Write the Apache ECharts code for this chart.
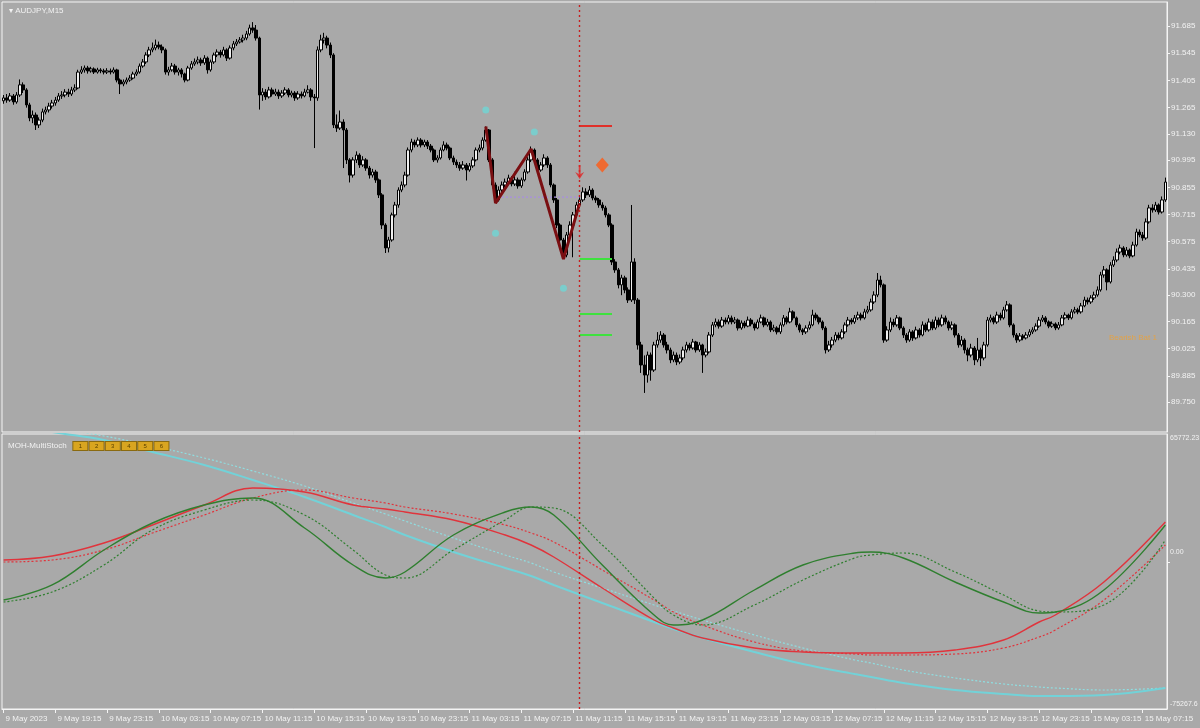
<!DOCTYPE html>
<html><head><meta charset="utf-8">
<script src="https://cdn.jsdelivr.net/npm/echarts@6/dist/echarts.min.js"></script>
<style>html,body{margin:0;padding:0;background:#a9a9a9}#c{width:1200px;height:728px}</style>
</head><body><div id="c"></div>
<script>
const symbolName = 'AUDJPY,M15';
const indicatorName = 'MOH-MultiStoch';
const indicatorButtons = ['1','2','3','4','5','6'];
const sideNote = 'Bearish Bat 1';
const xTickLabels = ['9 May 2023','9 May 19:15','9 May 23:15','10 May 03:15','10 May 07:15','10 May 11:15','10 May 15:15','10 May 19:15','10 May 23:15','11 May 03:15','11 May 07:15','11 May 11:15','11 May 15:15','11 May 19:15','11 May 23:15','12 May 03:15','12 May 07:15','12 May 11:15','12 May 15:15','12 May 19:15','12 May 23:15','15 May 03:15','15 May 07:15'];
const priceTicks = [89.750,89.885,90.025,90.165,90.300,90.435,90.575,90.715,90.855,90.995,91.130,91.265,91.405,91.545,91.685];
const stochTicks = [65772.23, 0, -75267.6];
const stochTickText = ['65772.23','0.00','-75267.6'];

const firstOpen = 91.300;
const closes = [
91.315,91.304,91.325,91.294,91.330,91.382,91.356,91.279,91.212,91.227,91.176,91.201,91.243,91.253,91.273,91.289,
91.304,91.325,91.330,91.345,91.335,91.356,91.366,91.448,91.459,91.469,91.454,91.464,91.448,91.459,91.454,91.448,
91.454,91.448,91.459,91.407,91.387,91.397,91.407,91.417,91.438,91.448,91.479,91.500,91.536,91.562,91.572,91.587,
91.577,91.562,91.448,91.459,91.479,91.448,91.459,91.438,91.407,91.469,91.490,91.500,91.510,91.495,91.520,91.459,
91.500,91.536,91.551,91.536,91.562,91.520,91.572,91.593,91.603,91.613,91.623,91.644,91.675,91.664,91.623,91.330,
91.345,91.320,91.356,91.335,91.345,91.325,91.340,91.356,91.330,91.340,91.315,91.335,91.325,91.345,91.356,91.320,
91.315,91.562,91.613,91.623,91.587,91.536,91.176,91.160,91.191,91.150,90.996,90.918,90.996,91.021,90.970,90.996,
90.954,90.918,90.934,90.893,90.816,90.661,90.543,90.584,90.713,90.764,90.841,90.867,90.918,91.047,91.088,91.073,
91.098,91.073,91.088,91.067,91.047,90.996,91.006,91.047,91.073,91.057,91.006,90.985,90.970,90.954,90.970,90.944,
90.965,90.996,91.047,91.057,91.098,91.150,90.996,90.867,90.790,90.841,90.867,90.882,90.903,90.872,90.893,90.862,
90.893,90.934,90.996,91.047,90.996,90.944,90.970,91.006,90.970,90.867,90.790,90.661,90.584,90.507,90.610,90.661,
90.713,90.764,90.790,90.831,90.816,90.841,90.800,90.790,90.764,90.749,90.713,90.661,90.471,90.430,90.353,90.389,
90.327,90.275,90.471,90.275,90.044,89.941,89.889,89.992,89.915,90.044,90.069,90.095,90.044,90.018,89.967,89.992,
89.956,89.977,90.018,90.044,90.028,90.059,90.018,90.044,89.992,90.008,90.095,90.147,90.162,90.141,90.172,90.162,
90.183,90.162,90.172,90.131,90.157,90.141,90.172,90.152,90.131,90.162,90.183,90.147,90.162,90.121,90.131,90.111,
90.147,90.183,90.162,90.214,90.183,90.147,90.121,90.111,90.131,90.147,90.198,90.183,90.162,90.131,90.018,90.044,
90.069,90.095,90.080,90.111,90.147,90.172,90.162,90.183,90.198,90.183,90.214,90.224,90.265,90.301,90.378,90.353,
90.069,90.121,90.162,90.147,90.183,90.131,90.095,90.069,90.111,90.080,90.121,90.095,90.147,90.121,90.162,90.131,
90.172,90.147,90.183,90.162,90.131,90.147,90.095,90.044,90.069,90.018,89.992,90.028,89.967,90.018,89.977,90.044,
90.172,90.183,90.162,90.198,90.183,90.224,90.250,90.147,90.095,90.069,90.090,90.080,90.095,90.111,90.121,90.141,
90.172,90.183,90.162,90.141,90.152,90.131,90.147,90.183,90.198,90.183,90.214,90.224,90.214,90.245,90.275,90.265,
90.286,90.301,90.327,90.404,90.430,90.368,90.455,90.481,90.522,90.543,90.507,90.532,90.502,90.558,90.625,90.610,
90.594,90.677,90.749,90.738,90.764,90.728,90.790,90.882];
const highs = [
91.330,91.335,91.340,91.335,91.345,91.410,91.395,91.365,91.290,91.250,91.240,91.215,91.260,91.270,91.290,91.305,
91.320,91.340,91.350,91.360,91.362,91.372,91.385,91.460,91.478,91.482,91.480,91.475,91.472,91.470,91.468,91.465,
91.468,91.466,91.472,91.465,91.415,91.410,91.420,91.432,91.450,91.462,91.492,91.515,91.550,91.578,91.600,91.615,
91.605,91.590,91.570,91.475,91.495,91.490,91.470,91.468,91.445,91.480,91.505,91.518,91.528,91.522,91.535,91.528,
91.512,91.548,91.565,91.562,91.578,91.570,91.585,91.608,91.618,91.628,91.640,91.660,91.692,91.705,91.690,91.630,
91.365,91.360,91.372,91.368,91.362,91.358,91.355,91.370,91.365,91.352,91.350,91.350,91.348,91.362,91.380,91.365,
91.335,91.580,91.640,91.650,91.635,91.600,91.545,91.230,91.250,91.205,91.160,91.005,91.010,91.040,91.030,91.015,
91.005,90.965,90.950,90.945,90.900,90.825,90.670,90.600,90.725,90.780,90.855,90.885,90.935,91.060,91.105,91.100,
91.112,91.108,91.100,91.098,91.078,91.055,91.020,91.060,91.092,91.085,91.065,91.018,90.998,90.985,90.990,90.980,
90.980,91.010,91.060,91.075,91.112,91.168,91.155,91.005,90.880,90.860,90.885,90.900,90.920,90.912,90.935,90.905,
90.905,90.948,91.010,91.065,91.055,91.005,90.985,91.025,91.015,90.980,90.875,90.800,90.670,90.595,90.625,90.680,
90.728,90.780,90.810,90.855,90.850,90.862,90.850,90.812,90.800,90.778,90.760,90.722,90.670,90.485,90.440,90.405,
90.400,90.340,90.764,90.490,90.285,90.060,89.990,90.010,90.005,90.060,90.110,90.115,90.105,90.060,90.030,90.010,
90.005,89.995,90.035,90.060,90.055,90.075,90.065,90.058,90.050,90.025,90.110,90.162,90.180,90.175,90.188,90.185,
90.198,90.195,90.188,90.180,90.170,90.168,90.190,90.182,90.160,90.175,90.200,90.190,90.178,90.170,90.148,90.140,
90.160,90.198,90.192,90.235,90.222,90.190,90.155,90.130,90.145,90.165,90.225,90.210,90.190,90.170,90.140,90.065,
90.085,90.110,90.108,90.125,90.160,90.188,90.182,90.198,90.215,90.210,90.230,90.245,90.282,90.320,90.414,90.400,
90.360,90.140,90.185,90.178,90.198,90.190,90.140,90.105,90.125,90.120,90.138,90.130,90.165,90.158,90.180,90.175,
90.190,90.185,90.200,90.195,90.170,90.165,90.155,90.105,90.090,90.078,90.030,90.050,90.038,90.080,90.030,90.060,
90.188,90.200,90.192,90.215,90.210,90.240,90.270,90.258,90.155,90.105,90.105,90.100,90.110,90.125,90.135,90.155,
90.188,90.198,90.192,90.170,90.165,90.160,90.162,90.198,90.212,90.205,90.228,90.240,90.235,90.260,90.292,90.288,
90.300,90.318,90.345,90.420,90.450,90.438,90.470,90.500,90.540,90.560,90.552,90.548,90.540,90.575,90.642,90.638,
90.625,90.695,90.765,90.768,90.780,90.772,90.808,90.905];
const lows = [
91.285,91.290,91.295,91.280,91.285,91.320,91.340,91.265,91.195,91.185,91.150,91.160,91.190,91.230,91.240,91.260,
91.275,91.295,91.310,91.318,91.320,91.325,91.345,91.360,91.438,91.445,91.440,91.445,91.438,91.440,91.442,91.436,
91.438,91.436,91.440,91.395,91.335,91.375,91.385,91.398,91.410,91.428,91.440,91.470,91.490,91.525,91.550,91.560,
91.565,91.545,91.435,91.430,91.450,91.435,91.430,91.420,91.395,91.400,91.460,91.480,91.488,91.480,91.485,91.440,
91.450,91.490,91.525,91.522,91.528,91.505,91.512,91.560,91.582,91.595,91.600,91.612,91.635,91.650,91.610,91.255,
91.300,91.305,91.312,91.322,91.325,91.310,91.315,91.330,91.318,91.318,91.300,91.305,91.312,91.318,91.338,91.300,
91.057,91.300,91.550,91.595,91.570,91.520,91.160,91.140,91.150,90.954,90.975,90.880,90.905,90.980,90.955,90.960,
90.940,90.900,90.905,90.878,90.800,90.640,90.517,90.520,90.575,90.700,90.750,90.830,90.855,90.910,91.035,91.060,
91.062,91.060,91.062,91.052,91.035,90.985,90.982,90.998,91.040,91.045,90.995,90.970,90.955,90.940,90.945,90.890,
90.935,90.955,90.988,91.035,91.045,91.090,90.985,90.850,90.774,90.782,90.830,90.855,90.870,90.860,90.862,90.848,
90.852,90.885,90.925,90.985,90.982,90.930,90.935,90.960,90.955,90.855,90.775,90.645,90.565,90.486,90.495,90.600,
90.495,90.700,90.750,90.780,90.800,90.805,90.788,90.775,90.750,90.735,90.700,90.650,90.455,90.415,90.335,90.300,
90.310,90.260,90.265,90.255,90.020,89.900,89.797,89.850,89.860,89.905,90.030,90.055,90.030,90.000,89.950,89.955,
89.940,89.945,89.965,90.005,90.015,90.020,90.005,90.008,89.900,89.980,90.000,90.085,90.135,90.128,90.132,90.150,
90.150,90.150,90.152,90.118,90.122,90.130,90.135,90.140,90.118,90.125,90.155,90.135,90.138,90.110,90.112,90.098,
90.100,90.138,90.150,90.155,90.170,90.135,90.108,90.095,90.100,90.122,90.140,90.170,90.150,90.120,90.000,90.008,
90.030,90.058,90.068,90.072,90.100,90.138,90.150,90.152,90.172,90.170,90.175,90.205,90.215,90.255,90.290,90.340,
90.055,90.060,90.110,90.135,90.138,90.120,90.080,90.055,90.060,90.065,90.072,90.082,90.088,90.110,90.112,90.120,
90.122,90.135,90.138,90.150,90.118,90.120,90.082,90.030,90.035,90.000,89.960,89.980,89.940,89.955,89.935,89.965,
90.035,90.160,90.150,90.152,90.170,90.175,90.215,90.135,90.082,90.055,90.060,90.068,90.072,90.085,90.100,90.112,
90.132,90.162,90.150,90.130,90.132,90.120,90.122,90.140,90.175,90.172,90.175,90.205,90.202,90.205,90.238,90.252,
90.255,90.275,90.292,90.318,90.390,90.325,90.360,90.445,90.470,90.510,90.495,90.498,90.490,90.495,90.550,90.598,
90.580,90.585,90.668,90.725,90.728,90.715,90.720,90.780];

// harmonic pattern & markers (bar index, price)
const patternBars = [149,152,163,173,178];
const patternPrices = [91.168,90.774,91.052,90.486,90.774];
const midlineBars = [154,178];
const midlinePrice = 90.805;
const dotBars = [149,164,152,173];
const dotPrices = [91.253,91.139,90.619,90.336];
const signalBar = 178;
const arrowPrice = 90.934;
const diamondBar = 185;
const diamondPrice = 90.970;
const levelBars = [178,188];
const stopPrice = 91.170;
const targetPrices = [90.486,90.203,90.095];
const notePrice = 90.080;
const noteBar = 340;

// MultiStoch lines, sampled at bar indices
const stochBars = [0,15,31,46,62,77,93,108,118,124,139,155,163,170,185,201,207,216,232,247,263,268,278,294,309,320,325,340,359];
const cyanMain = [71400,66800,62695,56540,49870,42180,33460,24230,18075,13970,5250,-2950,-7060,-11670,-20900,-30650,-34240,-38850,-46035,-52190,-57320,-58850,-61935,-65525,-67575,-68600,-68600,-68090,-64500];
const cyanSignal = [72440,68850,64750,59620,53460,46800,39100,30385,24740,21150,12435,3715,-390,-5000,-13210,-21930,-25010,-29620,-37310,-43980,-50130,-51670,-55260,-59360,-62440,-63985,-64500,-65525,-64500];
const redMain = [1150,3200,9870,19100,29360,38077,36025,29360,27300,25770,21665,13970,8840,2690,-13210,-29620,-33725,-38850,-43980,-46035,-46550,-46550,-46550,-45010,-39880,-30650,-27060,-10130,20640];
const redSignal = [125,1150,6280,15000,24230,32950,37050,32950,30385,28330,24740,19100,15000,10380,-3980,-19365,-25520,-32190,-40900,-45520,-47060,-47570,-47570,-47060,-43980,-38340,-34750,-19365,8840];
const greenMain = [-19365,-11670,6280,20130,29360,32950,17560,-1410,-8080,-5000,13970,25770,28330,24230,-1410,-27060,-32190,-29620,-14240,-1410,4740,5250,2180,-10130,-20390,-26030,-25520,-14240,19100];
const greenSignal = [-20390,-15260,-1410,16540,26790,31920,24230,6280,-6540,-8080,6280,21665,28330,27820,8840,-18340,-27060,-32190,-21930,-9110,2180,3715,4740,-5000,-16800,-25010,-25520,-21930,11410];

const FONT = 'Liberation Sans';
const TXT = '#f2f2f2';
const bars = closes.map((_, i) => i);
const candles = closes.map((c, i) => [i === 0 ? firstOpen : closes[i - 1], c, lows[i], highs[i]]);
const pair = (xs, ys) => xs.map((x, i) => [x, ys[i]]);
const showEvery16 = (idx) => idx % 16 === 0;

const vline = {
  silent: true, symbol: 'none', label: { show: false },
  lineStyle: { color: '#c81e1e', type: [2, 3], width: 1.4, opacity: 1 },
  emphasis: { disabled: true },
  data: [{ xAxis: signalBar }]
};

function stochSeries(name, vals, color, dotted, extra) {
  return Object.assign({
    name, type: 'line', xAxisIndex: 1, yAxisIndex: 1, smooth: 0.4,
    showSymbol: false, data: pair(stochBars, vals),
    lineStyle: { color, width: dotted ? 1.2 : 1.4, type: dotted ? [2, 2] : 'solid' },
    itemStyle: { color }, z: 3
  }, extra || {});
}

const chart = echarts.init(document.getElementById('c'), null, { renderer: 'canvas' });
chart.setOption({
  backgroundColor: '#a9a9a9',
  animation: false,
  textStyle: { fontFamily: FONT },
  title: [
    { text: '\u25BE ' + symbolName, left: 4, top: 2, textStyle: { color: TXT, fontSize: 8, fontWeight: 'normal', fontFamily: FONT } },
    {
      text: indicatorName + '   ' + indicatorButtons.map(b => '{b|' + b + '}').join(' '),
      left: 3, top: 437,
      textStyle: {
        color: TXT, fontSize: 8, fontWeight: 'normal', fontFamily: FONT,
        rich: { b: { backgroundColor: '#d9a520', borderColor: '#8a6a10', borderWidth: 1, color: '#5a4000', fontSize: 6, width: 14, height: 8, align: 'center' } }
      }
    }
  ],
  grid: [
    { left: 2, right: 33, top: 2, height: 430, show: true, borderColor: '#f4f4f4', borderWidth: 1, outerBoundsMode: 'none', containLabel: false },
    { left: 2, right: 33, top: 434, height: 275, show: true, borderColor: '#f4f4f4', borderWidth: 1, outerBoundsMode: 'none', containLabel: false }
  ],
  xAxis: [
    { type: 'category', gridIndex: 0, data: bars, boundaryGap: true, axisLine: { show: false, onZero: false }, axisTick: { show: false }, axisLabel: { show: false }, splitLine: { show: false } },
    {
      type: 'category', gridIndex: 1, data: bars, boundaryGap: true,
      axisLine: { show: true, onZero: false, lineStyle: { color: '#f4f4f4' } },
      axisTick: { show: true, interval: showEvery16, alignWithLabel: true, length: 4, lineStyle: { color: '#f4f4f4' } },
      axisLabel: { show: true, interval: showEvery16, color: TXT, fontSize: 8, fontFamily: FONT, align: 'left', margin: 6, padding: [0, 0, 0, 2],
        formatter: (v, idx) => xTickLabels[Math.round(idx / 16)] || '' },
      splitLine: { show: false }
    }
  ],
  yAxis: [
    {
      type: 'value', gridIndex: 0, position: 'right', min: 89.596, max: 91.8085, scale: true,
      axisLine: { show: true, lineStyle: { color: '#f4f4f4' } },
      axisTick: { show: true, length: 3, lineStyle: { color: '#f4f4f4' }, customValues: priceTicks },
      axisLabel: { show: true, color: TXT, fontSize: 8, fontFamily: FONT, margin: 4, customValues: priceTicks, formatter: v => v.toFixed(3) },
      splitLine: { show: false }
    },
    {
      type: 'value', gridIndex: 1, position: 'right', min: -75267.6, max: 65772.23,
      axisLine: { show: true, lineStyle: { color: '#f4f4f4' } },
      axisTick: { show: true, length: 3, lineStyle: { color: '#f4f4f4' }, customValues: [0] },
      axisLabel: {
        show: true, color: TXT, fontSize: 7, fontFamily: FONT, margin: 3, customValues: stochTicks,
        formatter: v => {
          const k = stochTicks.findIndex(t => Math.abs(t - v) < 1);
          const key = k === 0 ? 't' : (k === 1 ? 'z' : 'm');
          return '{' + key + '|' + (stochTickText[k] || '') + '}';
        },
        rich: { t: { fontSize: 7, padding: [8, 0, 0, 0] }, z: { fontSize: 7, padding: [0, 0, 20, 0] }, m: { fontSize: 7, padding: [0, 0, 10, 0] } }
      },
      splitLine: { show: false }
    }
  ],
  series: [
    {
      name: 'price', type: 'candlestick', xAxisIndex: 0, yAxisIndex: 0, data: candles, barWidth: 3,
      itemStyle: { color: '#f0f0f0', color0: '#000000', borderColor: '#000000', borderColor0: '#000000', borderWidth: 1 },
      markLine: vline, z: 2
    },
    {
      name: 'midline', type: 'line', xAxisIndex: 0, yAxisIndex: 0, showSymbol: false,
      data: midlineBars.map(b => [b, midlinePrice]),
      lineStyle: { color: '#a88de0', width: 1.3, type: [2, 2] }, z: 3
    },
    {
      name: 'pattern', type: 'line', xAxisIndex: 0, yAxisIndex: 0, showSymbol: false,
      data: pair(patternBars, patternPrices),
      lineStyle: { color: '#7a0f12', width: 3 }, z: 4
    },
    {
      name: 'stop', type: 'line', xAxisIndex: 0, yAxisIndex: 0, showSymbol: false,
      data: levelBars.map(b => [b, stopPrice]), lineStyle: { color: '#e0302a', width: 2 }, z: 4
    },
    ...targetPrices.map((p, k) => ({
      name: 'target' + (k + 1), type: 'line', xAxisIndex: 0, yAxisIndex: 0, showSymbol: false,
      data: levelBars.map(b => [b, p]), lineStyle: { color: '#3ee23e', width: 2 }, z: 4
    })),
    {
      name: 'dots', type: 'scatter', xAxisIndex: 0, yAxisIndex: 0, symbolSize: 7,
      data: pair(dotBars, dotPrices), itemStyle: { color: '#6fd6d4' }, z: 5
    },
    {
      name: 'arrow', type: 'scatter', xAxisIndex: 0, yAxisIndex: 0, symbol: 'path://M4,0 L6,0 L6,9 L10,7 L5,14 L0,7 L4,9 Z', symbolSize: [9, 14],
      data: [[signalBar, arrowPrice]], itemStyle: { color: '#e02424' }, z: 5
    },
    {
      name: 'diamond', type: 'scatter', xAxisIndex: 0, yAxisIndex: 0, symbol: 'diamond', symbolSize: [13, 15],
      data: [[diamondBar, diamondPrice]], itemStyle: { color: '#ff5a14' }, z: 5
    },
    {
      name: 'note', type: 'scatter', xAxisIndex: 0, yAxisIndex: 0, symbolSize: 0,
      data: [[noteBar, notePrice]],
      label: { show: true, position: 'right', formatter: sideNote, color: '#f0a030', fontSize: 8, fontFamily: FONT }, z: 5
    },
    stochSeries('cyanSignal', cyanSignal, '#8fdde0', true),
    stochSeries('cyanMain', cyanMain, '#72d2d8', false, { lineStyle: { color: '#72d2d8', width: 2 } }),
    stochSeries('redSignal', redSignal, '#e0343c', true),
    stochSeries('redMain', redMain, '#e0343c', false, { markLine: vline }),
    stochSeries('greenSignal', greenSignal, '#2f7f2f', true),
    stochSeries('greenMain', greenMain, '#2f7f2f', false)
  ]
});
</script></body></html>
